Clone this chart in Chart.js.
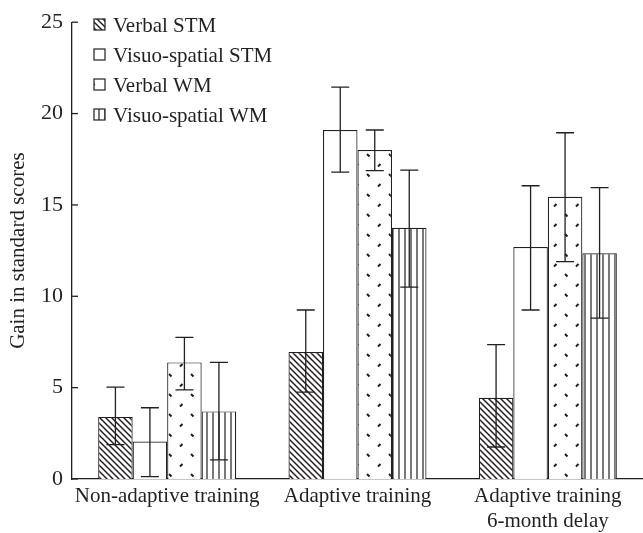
<!DOCTYPE html>
<html>
<head>
<meta charset="utf-8">
<script src="https://cdn.jsdelivr.net/npm/chart.js@4.4.1/dist/chart.umd.min.js"></script>
<style>
  html, body { margin: 0; padding: 0; background: #fff; }
  #box { width: 643px; height: 533px; }
</style>
</head>
<body>
<div id="box"><canvas id="chart"></canvas></div>
<script>
const categories = ["Non-adaptive training", "Adaptive training", ["Adaptive training", "6-month delay"]];
const seriesNames = ["Verbal STM", "Visuo-spatial STM", "Verbal WM", "Visuo-spatial WM"];

const verbalSTM = [3.4, 6.95, 4.45];
const verbalSTMLow = [1.88, 4.75, 1.75];
const verbalSTMHigh = [5.03, 9.25, 7.35];

const visuoSTM = [2.05, 19.1, 12.7];
const visuoSTMLow = [0.13, 16.8, 9.25];
const visuoSTMHigh = [3.9, 21.45, 16.05];

const verbalWM = [6.38, 18.0, 15.45];
const verbalWMLow = [4.88, 16.88, 11.9];
const verbalWMHigh = [7.75, 19.1, 18.95];

const visuoWM = [3.7, 13.75, 12.35];
const visuoWMLow = [1.05, 10.5, 8.8];
const visuoWMHigh = [6.38, 16.9, 15.95];

const yTicks = [0, 5, 10, 15, 20, 25];

const INK = "#231f20";
const FONT = "'Liberation Serif', 'DejaVu Serif', serif";

// fill patterns
function makePattern(w, h, draw) {
  const c = document.createElement("canvas");
  c.width = w; c.height = h;
  const g = c.getContext("2d");
  g.fillStyle = "#fff";
  g.fillRect(0, 0, w, h);
  g.strokeStyle = INK;
  g.fillStyle = INK;
  draw(g);
  return g.createPattern(c, "repeat");
}

const hatch = makePattern(6, 6, g => {
  g.lineWidth = 1.5;
  g.beginPath();
  g.moveTo(0, 0); g.lineTo(6, 6);
  g.moveTo(-1, 5); g.lineTo(1, 7);
  g.moveTo(5, -1); g.lineTo(7, 1);
  g.stroke();
});
const plain = "#fff";
const dashes = makePattern(22, 20, g => {
  g.lineWidth = 2;
  g.beginPath();
  g.moveTo(4, 6.5); g.lineTo(6.5, 4);
  g.moveTo(15, 14); g.lineTo(17.5, 16.5);
  g.stroke();
});
const vlines = makePattern(6, 6, g => {
  g.lineWidth = 1.2;
  g.beginPath();
  g.moveTo(3, 0); g.lineTo(3, 6);
  g.stroke();
});

const fills = [hatch, plain, dashes, vlines];
const values = [verbalSTM, visuoSTM, verbalWM, visuoWM];
const lows = [verbalSTMLow, visuoSTMLow, verbalWMLow, visuoWMLow];
const highs = [verbalSTMHigh, visuoSTMHigh, verbalWMHigh, visuoWMHigh];

const extras = {
  id: "extras",
  afterDatasetsDraw(chart) {
    const ctx = chart.ctx;
    const y = chart.scales.y;
    const area = chart.chartArea;
    ctx.save();
    ctx.strokeStyle = INK;
    ctx.lineWidth = 1.3;

    // error bars
    chart.data.datasets.forEach((ds, i) => {
      chart.getDatasetMeta(i).data.forEach((bar, j) => {
        const lo = y.getPixelForValue(lows[i][j]);
        const hi = y.getPixelForValue(highs[i][j]);
        ctx.beginPath();
        ctx.moveTo(bar.x, lo); ctx.lineTo(bar.x, hi);
        ctx.moveTo(bar.x - 9, lo); ctx.lineTo(bar.x + 9, lo);
        ctx.moveTo(bar.x - 9, hi); ctx.lineTo(bar.x + 9, hi);
        ctx.stroke();
      });
    });

    // inward y tick marks
    yTicks.forEach(v => {
      const p = y.getPixelForValue(v);
      ctx.beginPath();
      ctx.moveTo(area.left, p); ctx.lineTo(area.left + 6, p);
      ctx.stroke();
    });

    // legend
    ctx.font = "21px " + FONT;
    ctx.textBaseline = "middle";
    ctx.fillStyle = INK;
    seriesNames.forEach((name, i) => {
      const cy = 25 + i * 30;
      ctx.fillStyle = fills[i];
      ctx.fillRect(94, cy - 6, 11, 11);
      ctx.lineWidth = 1.2;
      ctx.strokeRect(94, cy - 6, 11, 11);
      ctx.fillStyle = INK;
      ctx.fillText(name, 113, cy + 1);
    });

    // y axis title
    ctx.font = "21px " + FONT;
    ctx.translate(18, (area.top + area.bottom) / 2);
    ctx.rotate(-Math.PI / 2);
    ctx.textAlign = "center";
    ctx.fillText("Gain in standard scores", 0, 0);
    ctx.restore();
  }
};

new Chart(document.getElementById("chart"), {
  type: "bar",
  data: {
    labels: categories,
    datasets: seriesNames.map((name, i) => ({
      label: name,
      data: values[i],
      backgroundColor: fills[i],
      borderColor: INK,
      borderWidth: 1.2,
      barPercentage: 1,
      categoryPercentage: 0.725
    }))
  },
  options: {
    responsive: true,
    maintainAspectRatio: false,
    animation: false,
    devicePixelRatio: 1,
    layout: { padding: { top: 17, right: -8, bottom: 0, left: 0 } },
    plugins: {
      legend: { display: false },
      tooltip: { enabled: false }
    },
    scales: {
      x: {
        grid: { display: false, drawTicks: false },
        border: { display: true, color: INK, width: 1.3 },
        ticks: { color: INK, font: { family: FONT, size: 21, lineHeight: 1.2 }, padding: 5, maxRotation: 0, autoSkip: false },
        afterFit: s => { s.height = 54; }
      },
      y: {
        min: 0,
        max: 25,
        grid: { display: false, drawTicks: false },
        border: { display: true, color: INK, width: 1.3 },
        ticks: { stepSize: 5, color: INK, font: { family: FONT, size: 22 }, padding: 9 },
        afterFit: s => { s.width = 72; }
      }
    }
  },
  plugins: [extras]
});
</script>
</body>
</html>
